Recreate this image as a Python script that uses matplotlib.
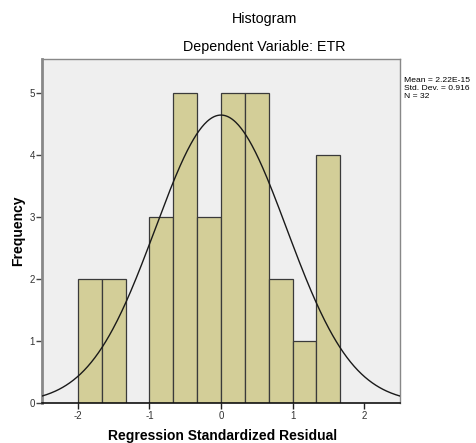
import numpy as np
import matplotlib
matplotlib.use("Agg")
import matplotlib.pyplot as plt

plt.rcParams['font.family'] = ['Liberation Sans', 'DejaVu Sans']

bin_edges = [-2.0, -5/3, -4/3, -1.0, -2/3, -1/3, 0.0, 1/3, 2/3, 1.0, 4/3, 5/3]
counts = [2, 2, 0, 3, 5, 3, 5, 5, 2, 1, 4]
mean = 2.22e-15
std = 0.916
n = 32
xticks = [-2, -1, 0, 1, 2]
yticks = [0, 1, 2, 3, 4, 5]

fig = plt.figure(figsize=(4.77, 4.43), dpi=100)
ax = fig.add_axes([0.088, 0.0903, 0.7506, 0.7765])
ax.set_facecolor('#EFEFEF')

edges = np.array(bin_edges)
widths = np.diff(edges)
ax.bar(edges[:-1], counts, width=widths, align='edge', color='#D3CE98',
       edgecolor='#3a3a3a', linewidth=0.9, zorder=2)

binw = widths[0]
xs = np.linspace(-2.5, 2.5, 400)
ys = n * binw * np.exp(-0.5 * ((xs - mean) / std) ** 2) / (std * np.sqrt(2 * np.pi))
ax.plot(xs, ys, color='#1a1a1a', linewidth=1.0, zorder=3)

ax.set_xlim(-2.5, 2.5)
ax.set_ylim(0, 5.55)
ax.set_xticks(xticks)
ax.set_yticks(yticks)
ax.set_xticklabels([str(v) for v in xticks], fontsize=7, color='#333333')
ax.set_yticklabels([str(v) for v in yticks], fontsize=7, color='#333333')
ax.tick_params(axis='x', length=4, width=1, color='#222222', pad=2)
ax.tick_params(axis='y', length=4, width=1, color='#444444', pad=1)

ax.spines['left'].set_color('#888888')
ax.spines['left'].set_linewidth(2)
ax.spines['bottom'].set_color('#111111')
ax.spines['bottom'].set_linewidth(1.2)
ax.spines['top'].set_color('#888888')
ax.spines['top'].set_linewidth(1)
ax.spines['right'].set_color('#888888')
ax.spines['right'].set_linewidth(1)

fig.text(0.466, 0.016, 'Regression Standardized Residual', ha='center', va='center',
         fontsize=10, fontweight='bold')
fig.text(0.038, 0.478, 'Frequency', ha='center', va='center', rotation=90,
         fontsize=10, fontweight='bold')

fig.text(0.555, 0.958, 'Histogram', ha='center', va='center', fontsize=10.3, fontweight='medium')
fig.text(0.555, 0.893, 'Dependent Variable: ETR', ha='center', va='center', fontsize=10.3,
         fontweight='medium')

fig.text(0.846, 0.800, 'Mean = 2.22E-15\nStd. Dev. = 0.916\nN = 32',
         ha='left', va='center', fontsize=6.1, linespacing=1.15)

fig.savefig('out.png', dpi=100, facecolor='white')
